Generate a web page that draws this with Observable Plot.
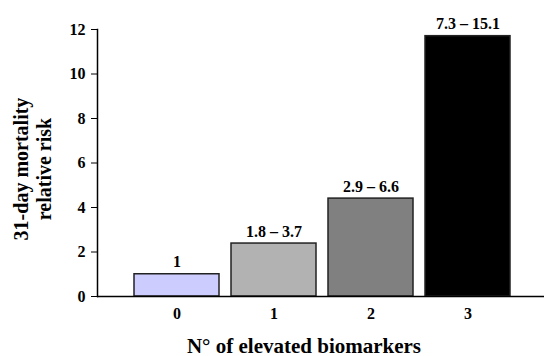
<!DOCTYPE html>
<html><head><meta charset="utf-8">
<script src="https://cdn.jsdelivr.net/npm/d3@7"></script>
<script src="https://cdn.jsdelivr.net/npm/@observablehq/plot@0.6"></script>
<style>body{margin:0;background:#fff}</style>
</head><body><div id="chart"></div>
<script>
const categories = ["0", "1", "2", "3"];
const relativeRisk = [1.0, 2.38, 4.4, 11.7];
const ciLabels = ["1", "1.8 – 3.7", "2.9 – 6.6", "7.3 – 15.1"];
const barColors = ["#ccccff", "#b2b2b2", "#808080", "#000000"];
const yTicks = [0, 2, 4, 6, 8, 10, 12];

const data = categories.map((c, i) => ({cat: c, rr: relativeRisk[i], label: ciLabels[i], color: barColors[i]}));
const font = "'Liberation Serif', 'Times New Roman', serif";

const plot = Plot.plot({
  width: 544, height: 356,
  marginLeft: 97, marginRight: 0, marginTop: 29, marginBottom: 60,
  style: {fontFamily: font, fontWeight: "bold", fontSize: "16px", color: "#000", background: "#fff"},
  x: {domain: categories, paddingInner: 0.12, paddingOuter: 0.3475, align: 0.53, label: null},
  y: {domain: [0, 12], label: null},
  marks: [
    Plot.barY(data, {x: "cat", y: "rr", fill: "color", stroke: "#222", strokeWidth: 1.5}),
    Plot.text(data, {x: "cat", y: "rr", text: "label", dy: -7, lineAnchor: "bottom", fontSize: 16, fontWeight: "bold"}),
    Plot.ruleY([0], {stroke: "#000", strokeWidth: 1.5}),
    Plot.frame({anchor: "left", stroke: "#000", strokeWidth: 1.5}),
    Plot.axisY({ticks: yTicks, tickSize: 6, tickPadding: 6, tickFormat: d => String(d), label: null, fontSize: 16}),
    Plot.axisX({tickSize: 0, tickPadding: 11, label: null, fontSize: 16})
  ]
});

const wrap = document.createElement("div");
wrap.style.position = "relative";
wrap.style.width = "544px";
wrap.style.height = "356px";
wrap.appendChild(plot);

const ylab = document.createElement("div");
ylab.innerHTML = "31-day mortality<br>relative risk";
Object.assign(ylab.style, {position: "absolute", left: "33px", top: "169px", transform: "translate(-50%,-50%) rotate(-90deg)",
  fontFamily: font, fontWeight: "bold", fontSize: "20px", lineHeight: "23px", textAlign: "center", whiteSpace: "nowrap"});
wrap.appendChild(ylab);

const xlab = document.createElement("div");
xlab.textContent = "N° of elevated biomarkers";
Object.assign(xlab.style, {position: "absolute", left: "304px", top: "346px", transform: "translate(-50%,-50%)",
  fontFamily: font, fontWeight: "bold", fontSize: "21px", whiteSpace: "nowrap"});
wrap.appendChild(xlab);

document.getElementById("chart").appendChild(wrap);
</script>
</body></html>
